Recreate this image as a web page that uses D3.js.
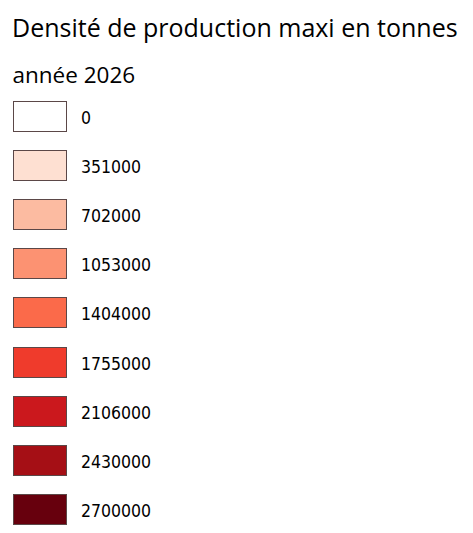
<!DOCTYPE html>
<html>
<head>
<meta charset="utf-8">
<script src="https://cdn.jsdelivr.net/npm/d3@7"></script>
<style>
  body { margin: 0; background: #fff; }
  text { fill: #000; }
  .head { font-family: "Open Sans", "Noto Sans", sans-serif; }
  .lbl { font-family: "DejaVu Sans Condensed", "DejaVu Sans", sans-serif; font-stretch: condensed; }
</style>
</head>
<body>
<script>
var title = "Densité de production maxi en tonnes";
var subtitle = "année 2026";
var classes = [0, 351000, 702000, 1053000, 1404000, 1755000, 2106000, 2430000, 2700000];
var colors = ["#ffffff", "#fee0d2", "#fcbba1", "#fc9272", "#fb6a4a", "#ef3b2c", "#cb181d", "#a50f15", "#67000d"];

var width = 473, height = 533;

var svg = d3.select("body").append("svg")
    .attr("width", width)
    .attr("height", height);

svg.append("text")
    .attr("class", "head")
    .attr("x", 12)
    .attr("y", 37)
    .style("font-size", "25px")
    .text(title);

svg.append("text")
    .attr("class", "head")
    .attr("x", 12.5)
    .attr("y", 82.5)
    .style("font-size", "22.5px")
    .text(subtitle);

var y = d3.scaleBand()
    .domain(d3.range(classes.length))
    .range([101, 101 + 49.1 * classes.length])
    .paddingInner(0);

var color = d3.scaleOrdinal().domain(classes).range(colors);

var rows = svg.selectAll("g.item").data(classes).enter()
    .append("g")
    .attr("class", "item")
    .attr("transform", function(d, i) { return "translate(0," + Math.round(y(i)) + ")"; });

rows.append("rect")
    .attr("x", 13.5)
    .attr("y", 0.5)
    .attr("width", 53)
    .attr("height", 30)
    .attr("fill", function(d) { return color(d); })
    .attr("stroke", "#5b4747")
    .attr("stroke-width", 1);

rows.append("text")
    .attr("class", "lbl")
    .attr("x", 81)
    .attr("y", 22.5)
    .style("font-size", "17.5px")
    .text(function(d) { return d; });
</script>
</body>
</html>
